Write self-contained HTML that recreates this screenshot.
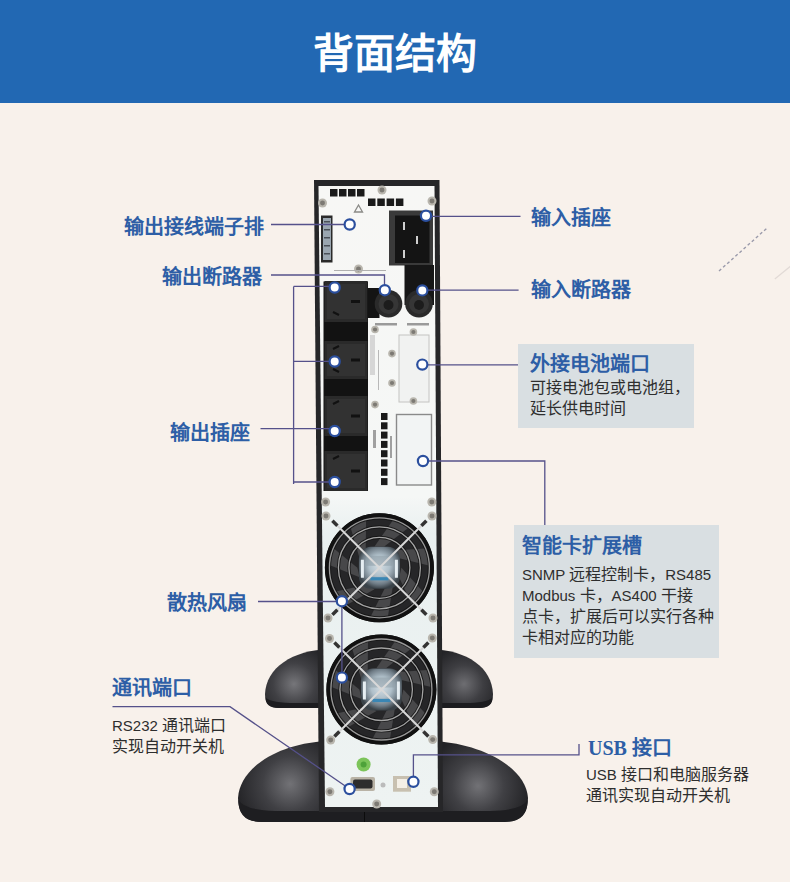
<!DOCTYPE html>
<html lang="zh-CN"><head><meta charset="utf-8">
<style>
html,body{margin:0;padding:0;}
body{width:790px;height:882px;position:relative;overflow:hidden;background:#f8f1eb;font-family:"Liberation Sans",sans-serif;}
.hdr{position:absolute;left:0;top:0;width:790px;height:103px;background:#2268b3;}
.title{position:absolute;left:0;top:26px;width:790px;text-align:center;color:#fff;font-size:41px;font-weight:bold;line-height:56px;font-family:"Liberation Serif",serif;letter-spacing:0px;}
.lb{position:absolute;color:#2d5ea6;font-size:20px;font-weight:bold;line-height:24px;white-space:nowrap;font-family:"Liberation Serif",serif;}
.tx{position:absolute;color:#2e2e2e;font-size:16px;line-height:21px;white-space:nowrap;}
.l{font-size:15px;}
.box{position:absolute;background:#d9dfe2;}
svg{position:absolute;left:0;top:0;}
</style></head><body>
<div class="hdr"></div>
<div class="title">背面结构</div>

<svg width="790" height="882" viewBox="0 0 790 882">
<defs>
<radialGradient id="domeL" cx="0.55" cy="0.55" r="0.6"><stop offset="0" stop-color="#8a8a8e"/><stop offset="0.45" stop-color="#4a4a4e"/><stop offset="1" stop-color="#1e1e22"/></radialGradient>
<linearGradient id="panel" x1="0" y1="0" x2="0" y2="1"><stop offset="0" stop-color="#f7f7f5"/><stop offset="0.5" stop-color="#f5f7f6"/><stop offset="0.56" stop-color="#e9f0f0"/><stop offset="1" stop-color="#eef3f2"/></linearGradient>
<radialGradient id="hub" cx="0.5" cy="0.45" r="0.55"><stop offset="0" stop-color="#d4dee4"/><stop offset="0.45" stop-color="#b0c0ca"/><stop offset="0.8" stop-color="#6f7c86"/><stop offset="1" stop-color="#3a4248"/></radialGradient>
<radialGradient id="fanbg" cx="0.5" cy="0.5" r="0.5"><stop offset="0.35" stop-color="#2a2a2c"/><stop offset="0.8" stop-color="#141416"/><stop offset="1" stop-color="#303032"/></radialGradient>
</defs>
<radialGradient id="dU1" gradientUnits="userSpaceOnUse" cx="294" cy="684" r="42"><stop offset="0" stop-color="#76767a"/><stop offset="0.5" stop-color="#404044"/><stop offset="1" stop-color="#232326"/></radialGradient>
<radialGradient id="dU2" gradientUnits="userSpaceOnUse" cx="464" cy="684" r="38"><stop offset="0" stop-color="#6e6e72"/><stop offset="0.5" stop-color="#3e3e42"/><stop offset="1" stop-color="#232326"/></radialGradient>
<radialGradient id="dL1" gradientUnits="userSpaceOnUse" cx="290" cy="784" r="55"><stop offset="0" stop-color="#727276"/><stop offset="0.5" stop-color="#404044"/><stop offset="1" stop-color="#232326"/></radialGradient>
<radialGradient id="dL2" gradientUnits="userSpaceOnUse" cx="478" cy="786" r="52"><stop offset="0" stop-color="#727276"/><stop offset="0.5" stop-color="#404044"/><stop offset="1" stop-color="#232326"/></radialGradient>
<path d="M381,649 L330,649 C292,650 266,668 265,694 Q265,708 279,708 L381,708 Z" fill="url(#dU1)"/>
<path d="M379,649 L430,649 C468,650 492,668 493,694 Q493,708 479,708 L379,708 Z" fill="url(#dU2)"/>
<path d="M265.5,697 Q268,702 290,703 L470,703 Q490,702 492.5,697 Q493,708 479,708 L279,708 Q265,708 265.5,697 Z" fill="#1c1c1f"/>
<path d="M383,741 L330,741 C282,742 240,766 238,798 Q238,822 262,822 L383,822 Z" fill="url(#dL1)"/>
<path d="M381,741 L430,741 C478,742 526,766 528,798 Q528,822 504,822 L381,822 Z" fill="url(#dL2)"/>
<path d="M238.5,800 Q244,810 275,811 L490,811 Q523,810 527.5,800 Q528,822 504,822 L262,822 Q238,822 238.5,800 Z" fill="#1e1e21"/>
<rect x="364" y="812" width="1" height="10" fill="#0c0c0c"/>
<polygon points="314,180 439.5,180 443,812 319,812" fill="#262628"/>
<polygon points="318.5,186 434.5,186 438,807 325,807" fill="url(#panel)"/>
<rect x="330" y="189" width="7.5" height="7.5" fill="#1a1a1a"/>
<rect x="368.0" y="198.5" width="7.5" height="7.5" fill="#1a1a1a"/>
<rect x="339" y="189" width="7.5" height="7.5" fill="#1a1a1a"/>
<rect x="377.3" y="198.5" width="7.5" height="7.5" fill="#1a1a1a"/>
<rect x="348" y="189" width="7.5" height="7.5" fill="#1a1a1a"/>
<rect x="386.6" y="198.5" width="7.5" height="7.5" fill="#1a1a1a"/>
<rect x="357" y="189" width="7.5" height="7.5" fill="#1a1a1a"/>
<rect x="395.9" y="198.5" width="7.5" height="7.5" fill="#1a1a1a"/>
<circle cx="382" cy="190" r="4.5" fill="#b9b6ae"/><circle cx="382" cy="190" r="2.475" fill="#7d7a74"/>
<circle cx="322.5" cy="203" r="4.5" fill="#b9b6ae"/><circle cx="322.5" cy="203" r="2.475" fill="#7d7a74"/>
<circle cx="432" cy="201" r="4.5" fill="#b9b6ae"/><circle cx="432" cy="201" r="2.475" fill="#7d7a74"/>
<circle cx="358.5" cy="269" r="4.5" fill="#b9b6ae"/><circle cx="358.5" cy="269" r="2.475" fill="#7d7a74"/>
<circle cx="325.6" cy="502" r="4.5" fill="#b9b6ae"/><circle cx="325.6" cy="502" r="2.475" fill="#7d7a74"/>
<circle cx="431.8" cy="502" r="4.5" fill="#b9b6ae"/><circle cx="431.8" cy="502" r="2.475" fill="#7d7a74"/>
<circle cx="326" cy="516" r="4.5" fill="#b9b6ae"/><circle cx="326" cy="516" r="2.475" fill="#7d7a74"/>
<circle cx="432" cy="516" r="4.5" fill="#b9b6ae"/><circle cx="432" cy="516" r="2.475" fill="#7d7a74"/>
<circle cx="329.5" cy="638.5" r="4.5" fill="#b9b6ae"/><circle cx="329.5" cy="638.5" r="2.475" fill="#7d7a74"/>
<circle cx="432.3" cy="638" r="4.5" fill="#b9b6ae"/><circle cx="432.3" cy="638" r="2.475" fill="#7d7a74"/>
<circle cx="330.7" cy="740" r="4.5" fill="#b9b6ae"/><circle cx="330.7" cy="740" r="2.475" fill="#7d7a74"/>
<circle cx="432.7" cy="739.6" r="4.5" fill="#b9b6ae"/><circle cx="432.7" cy="739.6" r="2.475" fill="#7d7a74"/>
<circle cx="328" cy="618" r="4.5" fill="#b9b6ae"/><circle cx="328" cy="618" r="2.475" fill="#7d7a74"/>
<circle cx="433" cy="618" r="4.5" fill="#b9b6ae"/><circle cx="433" cy="618" r="2.475" fill="#7d7a74"/>
<circle cx="329.9" cy="791.7" r="4.5" fill="#b9b6ae"/><circle cx="329.9" cy="791.7" r="2.475" fill="#7d7a74"/>
<circle cx="434.3" cy="791.7" r="4.5" fill="#b9b6ae"/><circle cx="434.3" cy="791.7" r="2.475" fill="#7d7a74"/>
<circle cx="376.7" cy="804" r="4.5" fill="#b9b6ae"/><circle cx="376.7" cy="804" r="2.475" fill="#7d7a74"/>
<path d="M354.5,212 L358.5,205 L362.5,212 Z" fill="none" stroke="#8a8a86" stroke-width="1.3"/>
<rect x="321" y="215.5" width="11.5" height="47" fill="#2a2a2a"/>
<rect x="323" y="218" width="8" height="42" fill="#9aa6b0"/>
<rect x="324" y="221" width="6" height="1.5" fill="#4a5058"/>
<rect x="324" y="229" width="6" height="1.5" fill="#4a5058"/>
<rect x="324" y="237" width="6" height="1.5" fill="#4a5058"/>
<rect x="324" y="245" width="6" height="1.5" fill="#4a5058"/>
<rect x="324" y="253" width="6" height="1.5" fill="#4a5058"/>
<rect x="389" y="210.5" width="44" height="55" fill="#3a3a3a"/>
<rect x="395" y="215.5" width="34.5" height="47.5" fill="#141414"/>
<rect x="403" y="222" width="2" height="8" fill="#cfcfcf"/><rect x="416" y="236" width="2" height="8" fill="#cfcfcf"/><rect x="403" y="250" width="2" height="8" fill="#cfcfcf"/>
<rect x="404.5" y="265" width="29.5" height="40" fill="#161616"/>
<rect x="334" y="270" width="52" height="1" fill="#b0b0b0"/>
<rect x="323.5" y="281.5" width="44.5" height="209.5" fill="#121212"/>
<rect x="324.5" y="281" width="43" height="41" fill="#2a2a2a"/>
<rect x="327" y="284" width="38" height="35" fill="#323232"/>
<path d="M333,289 l6,-3" stroke="#111" stroke-width="2.2"/>
<path d="M333,312 l6,3" stroke="#111" stroke-width="2.2"/>
<rect x="351" y="300.0" width="9" height="3" fill="#111"/>
<rect x="324.5" y="341" width="43" height="38" fill="#2a2a2a"/>
<rect x="327" y="344" width="38" height="32" fill="#323232"/>
<path d="M333,349 l6,-3" stroke="#111" stroke-width="2.2"/>
<path d="M333,369 l6,3" stroke="#111" stroke-width="2.2"/>
<rect x="351" y="358.5" width="9" height="3" fill="#111"/>
<rect x="324.5" y="396" width="43" height="40" fill="#2a2a2a"/>
<rect x="327" y="399" width="38" height="34" fill="#323232"/>
<path d="M333,404 l6,-3" stroke="#111" stroke-width="2.2"/>
<path d="M333,426 l6,3" stroke="#111" stroke-width="2.2"/>
<rect x="351" y="414.5" width="9" height="3" fill="#111"/>
<rect x="324.5" y="451" width="43" height="40" fill="#2a2a2a"/>
<rect x="327" y="454" width="38" height="34" fill="#323232"/>
<path d="M333,459 l6,-3" stroke="#111" stroke-width="2.2"/>
<path d="M333,481 l6,3" stroke="#111" stroke-width="2.2"/>
<rect x="351" y="469.5" width="9" height="3" fill="#111"/>
<rect x="367.5" y="288" width="12" height="30" fill="#141414"/>
<circle cx="388.5" cy="303.7" r="13.8" fill="#2a2a2a"/>
<circle cx="388.5" cy="304" r="10" fill="#363636"/>
<circle cx="388.5" cy="305" r="5" fill="#1c1c1c"/>
<circle cx="419" cy="303.7" r="13.8" fill="#2a2a2a"/>
<circle cx="419" cy="304" r="10" fill="#363636"/>
<circle cx="419" cy="305" r="5" fill="#1c1c1c"/>
<rect x="375" y="323" width="22" height="2.5" fill="#9a9a9a"/><rect x="407" y="323" width="22" height="2.5" fill="#9a9a9a"/>
<rect x="399" y="335" width="30" height="67" fill="#f1f2f1" stroke="#c4c4c2" stroke-width="1"/>
<rect x="378" y="350" width="1" height="40" fill="#b8b8b8"/><rect x="370" y="335" width="5" height="40" fill="#d6d6d6"/>
<circle cx="392" cy="353.6" r="3.8" fill="#b9b6ae"/><circle cx="392" cy="353.6" r="2.09" fill="#7d7a74"/>
<circle cx="392" cy="383" r="3.8" fill="#b9b6ae"/><circle cx="392" cy="383" r="2.09" fill="#7d7a74"/>
<circle cx="413.4" cy="332" r="3.8" fill="#b9b6ae"/><circle cx="413.4" cy="332" r="2.09" fill="#7d7a74"/>
<circle cx="413.4" cy="401" r="3.8" fill="#b9b6ae"/><circle cx="413.4" cy="401" r="2.09" fill="#7d7a74"/>
<circle cx="375" cy="404.6" r="3.8" fill="#b9b6ae"/><circle cx="375" cy="404.6" r="2.09" fill="#7d7a74"/>
<circle cx="375" cy="329.5" r="3.8" fill="#b9b6ae"/><circle cx="375" cy="329.5" r="2.09" fill="#7d7a74"/>
<rect x="396.5" y="414.5" width="35" height="70.5" fill="#f2f4f4" stroke="#8a8a8a" stroke-width="1.4"/>
<rect x="381" y="413.0" width="6.5" height="7" fill="#1a1a1a"/>
<rect x="381" y="422.3" width="6.5" height="7" fill="#1a1a1a"/>
<rect x="381" y="431.6" width="6.5" height="7" fill="#1a1a1a"/>
<rect x="381" y="440.9" width="6.5" height="7" fill="#1a1a1a"/>
<rect x="381" y="450.2" width="6.5" height="7" fill="#1a1a1a"/>
<rect x="381" y="459.5" width="6.5" height="7" fill="#1a1a1a"/>
<rect x="381" y="468.8" width="6.5" height="7" fill="#1a1a1a"/>
<rect x="381" y="478.1" width="6.5" height="7" fill="#1a1a1a"/>
<rect x="373" y="430" width="3" height="18" fill="#a0a0a0"/><rect x="390" y="436" width="2" height="22" fill="#a0a0a0"/>
<circle cx="379.4" cy="567.8" r="54.5" fill="#141416"/><circle cx="379.4" cy="567.8" r="49.5" fill="#262628"/><path d="M401.4,567.8 L422.8,591.5 A49.5,49.5 0 0 1 412.1,605.0 L399.2,577.4 Z" fill="#48484a"/><path d="M393.1,585.0 L387.9,616.6 A49.5,49.5 0 0 1 370.7,616.5 L384.3,589.3 Z" fill="#48484a"/><path d="M374.5,589.2 L346.6,604.9 A49.5,49.5 0 0 1 335.9,591.4 L365.7,585.0 Z" fill="#48484a"/><path d="M359.6,577.3 L330.0,565.3 A49.5,49.5 0 0 1 333.8,548.5 L357.4,567.8 Z" fill="#48484a"/><path d="M359.6,558.3 L350.6,527.6 A49.5,49.5 0 0 1 366.1,520.1 L365.7,550.6 Z" fill="#48484a"/><path d="M374.5,546.4 L392.9,520.2 A49.5,49.5 0 0 1 408.4,527.7 L384.3,546.4 Z" fill="#48484a"/><path d="M393.1,550.6 L425.0,548.6 A49.5,49.5 0 0 1 428.8,565.4 L399.2,558.3 Z" fill="#48484a"/><circle cx="379.4" cy="567.8" r="53.0" fill="none" stroke="#111" stroke-width="3"/><circle cx="379.4" cy="567.8" r="50.0" fill="none" stroke="#111" stroke-width="3.2" opacity="0.8"/><circle cx="379.4" cy="567.8" r="50.0" fill="none" stroke="#9a9a9a" stroke-width="1.3"/><circle cx="379.4" cy="567.8" r="41.0" fill="none" stroke="#111" stroke-width="3.2" opacity="0.8"/><circle cx="379.4" cy="567.8" r="41.0" fill="none" stroke="#a4a4a4" stroke-width="1.3"/><circle cx="379.4" cy="567.8" r="30.5" fill="none" stroke="#111" stroke-width="3.2" opacity="0.8"/><circle cx="379.4" cy="567.8" r="30.5" fill="none" stroke="#a4a4a4" stroke-width="1.3"/><rect x="358.9" y="546.8" width="41" height="42" rx="12" fill="url(#hub)"/><rect x="366.4" y="555.8" width="26" height="10" fill="#8e9ca6" opacity="0.55"/><path d="M362.4,559.8 v18 M396.4,559.8 v18" stroke="#e6eef2" stroke-width="3"/><path d="M370.4,578.8 h18" stroke="#3a86b4" stroke-width="3.2"/><path d="M334.4,522.8 L424.4,612.8 M424.4,522.8 L334.4,612.8" stroke="#d8d8d8" stroke-width="2"/><path d="M337.4,525.8 L332.4,520.8" stroke="#333" stroke-width="3.5"/><path d="M421.4,525.8 L426.4,520.8" stroke="#333" stroke-width="3.5"/><path d="M337.4,609.8 L332.4,614.8" stroke="#333" stroke-width="3.5"/><path d="M421.4,609.8 L426.4,614.8" stroke="#333" stroke-width="3.5"/>
<circle cx="381.4" cy="689.5" r="55" fill="#141416"/><circle cx="381.4" cy="689.5" r="50" fill="#262628"/><path d="M403.4,689.5 L425.3,713.5 A50,50 0 0 1 414.4,727.1 L401.2,699.1 Z" fill="#48484a"/><path d="M395.1,706.7 L390.0,738.8 A50,50 0 0 1 372.6,738.7 L386.3,711.0 Z" fill="#48484a"/><path d="M376.5,710.9 L348.3,726.9 A50,50 0 0 1 337.4,713.3 L367.7,706.7 Z" fill="#48484a"/><path d="M361.6,699.0 L331.5,686.9 A50,50 0 0 1 335.4,670.0 L359.4,689.5 Z" fill="#48484a"/><path d="M361.6,680.0 L352.3,648.9 A50,50 0 0 1 368.0,641.3 L367.7,672.3 Z" fill="#48484a"/><path d="M376.5,668.1 L395.0,641.4 A50,50 0 0 1 410.7,649.0 L386.3,668.1 Z" fill="#48484a"/><path d="M395.1,672.3 L427.5,670.1 A50,50 0 0 1 431.3,687.1 L401.2,680.0 Z" fill="#48484a"/><circle cx="381.4" cy="689.5" r="53.5" fill="none" stroke="#111" stroke-width="3"/><circle cx="381.4" cy="689.5" r="50.5" fill="none" stroke="#111" stroke-width="3.2" opacity="0.8"/><circle cx="381.4" cy="689.5" r="50.5" fill="none" stroke="#9a9a9a" stroke-width="1.3"/><circle cx="381.4" cy="689.5" r="41.5" fill="none" stroke="#111" stroke-width="3.2" opacity="0.8"/><circle cx="381.4" cy="689.5" r="41.5" fill="none" stroke="#a4a4a4" stroke-width="1.3"/><circle cx="381.4" cy="689.5" r="31" fill="none" stroke="#111" stroke-width="3.2" opacity="0.8"/><circle cx="381.4" cy="689.5" r="31" fill="none" stroke="#a4a4a4" stroke-width="1.3"/><rect x="360.9" y="668.5" width="41" height="42" rx="12" fill="url(#hub)"/><rect x="368.4" y="677.5" width="26" height="10" fill="#8e9ca6" opacity="0.55"/><path d="M364.4,681.5 v18 M398.4,681.5 v18" stroke="#e6eef2" stroke-width="3"/><path d="M372.4,700.5 h18" stroke="#3a86b4" stroke-width="3.2"/><path d="M336.4,644.5 L426.4,734.5 M426.4,644.5 L336.4,734.5" stroke="#d8d8d8" stroke-width="2"/><path d="M339.4,647.5 L334.4,642.5" stroke="#333" stroke-width="3.5"/><path d="M423.4,647.5 L428.4,642.5" stroke="#333" stroke-width="3.5"/><path d="M339.4,731.5 L334.4,736.5" stroke="#333" stroke-width="3.5"/><path d="M423.4,731.5 L428.4,736.5" stroke="#333" stroke-width="3.5"/>
<circle cx="363.6" cy="764.5" r="7" fill="#7cc45a"/><circle cx="363.6" cy="764.5" r="3" fill="#4ea23a"/>
<rect x="350.4" y="777" width="24.6" height="14" rx="2" fill="#b9b3a6"/><rect x="353" y="779.5" width="19.5" height="9" rx="2" fill="#2d2d2d"/>
<rect x="393" y="776" width="18" height="15.7" fill="#c8c0b0"/><rect x="397" y="779" width="10" height="9" fill="#f4efe6"/>
<circle cx="383" cy="785" r="2.5" fill="#bbb"/>
<path d="M271,224.5 H349" fill="none" stroke="#55518a" stroke-width="1.3"/>
<path d="M271,275 H384.5 V290" fill="none" stroke="#55518a" stroke-width="1.3"/>
<path d="M293.6,286.4 V484 M293.6,286.4 H334.7 M293.6,361.3 H334.7 M260.5,428.6 H334.7 M293.6,482 H334.7" fill="none" stroke="#55518a" stroke-width="1.3"/>
<path d="M426,216.3 H520.5" fill="none" stroke="#55518a" stroke-width="1.3"/>
<path d="M422.3,290.2 H518.6" fill="none" stroke="#55518a" stroke-width="1.3"/>
<path d="M422.3,364.8 H518" fill="none" stroke="#55518a" stroke-width="1.3"/>
<path d="M423,461 H544.8 V525" fill="none" stroke="#55518a" stroke-width="1.3"/>
<path d="M258,601.5 H342 M341.9,601.5 V677.6" fill="none" stroke="#55518a" stroke-width="1.3"/>
<path d="M112.5,706.7 H230 L349.6,789" fill="none" stroke="#55518a" stroke-width="1.3"/>
<path d="M413.4,781.8 V754.8 H579 V744" fill="none" stroke="#55518a" stroke-width="1.3"/>
<path d="M719,271 L767.5,227.6" stroke="#9a9aaa" stroke-width="1.4" stroke-dasharray="3,2.5"/>
<path d="M774.8,279 L792,265" stroke="#e2dad6" stroke-width="1.2"/>
<circle cx="349.7" cy="224.5" r="5.1" fill="#fff" stroke="#2b4f9e" stroke-width="2.2"/>
<circle cx="426" cy="215.8" r="5.1" fill="#fff" stroke="#2b4f9e" stroke-width="2.2"/>
<circle cx="384.8" cy="290.2" r="5.1" fill="#fff" stroke="#2b4f9e" stroke-width="2.2"/>
<circle cx="422.3" cy="290.4" r="5.1" fill="#fff" stroke="#2b4f9e" stroke-width="2.2"/>
<circle cx="334.7" cy="287.5" r="5.1" fill="#fff" stroke="#2b4f9e" stroke-width="2.2"/>
<circle cx="334.7" cy="361.5" r="5.1" fill="#fff" stroke="#2b4f9e" stroke-width="2.2"/>
<circle cx="334.7" cy="431" r="5.1" fill="#fff" stroke="#2b4f9e" stroke-width="2.2"/>
<circle cx="334.7" cy="482" r="5.1" fill="#fff" stroke="#2b4f9e" stroke-width="2.2"/>
<circle cx="422.3" cy="364.6" r="5.1" fill="#fff" stroke="#2b4f9e" stroke-width="2.2"/>
<circle cx="423" cy="461" r="5.1" fill="#fff" stroke="#2b4f9e" stroke-width="2.2"/>
<circle cx="341.9" cy="601.2" r="5.1" fill="#fff" stroke="#2b4f9e" stroke-width="2.2"/>
<circle cx="341.9" cy="677.6" r="5.1" fill="#fff" stroke="#2b4f9e" stroke-width="2.2"/>
<circle cx="349.6" cy="789" r="5.1" fill="#fff" stroke="#2b4f9e" stroke-width="2.2"/>
<circle cx="413.4" cy="781.8" r="5.1" fill="#fff" stroke="#2b4f9e" stroke-width="2.2"/>
</svg>

<div class="box" style="left:518px;top:344px;width:176px;height:84px"></div>
<div class="box" style="left:514px;top:525px;width:205px;height:133px"></div>

<div class="lb" style="left:124px;top:215px">输出接线端子排</div>
<div class="lb" style="left:162px;top:265px">输出断路器</div>
<div class="lb" style="left:170px;top:421px">输出插座</div>
<div class="lb" style="left:167px;top:591px">散热风扇</div>
<div class="lb" style="left:112px;top:676px">通讯端口</div>
<div class="tx" style="left:112px;top:715px"><span class="l">RS232 </span>通讯端口<br>实现自动开关机</div>

<div class="lb" style="left:531px;top:206px">输入插座</div>
<div class="lb" style="left:531px;top:278px">输入断路器</div>
<div class="lb" style="left:530px;top:352px">外接电池端口</div>
<div class="tx" style="left:530px;top:377px">可接电池包或电池组，<br>延长供电时间</div>
<div class="lb" style="left:522px;top:534px">智能卡扩展槽</div>
<div class="tx" style="left:522px;top:564px"><span class="l">SNMP </span>远程控制卡，<span class="l">RS485</span><br><span class="l">Modbus </span>卡，<span class="l">AS400 </span>干接<br>点卡，扩展后可以实行各种<br>卡相对应的功能</div>
<div class="lb" style="left:588px;top:736px">USB 接口</div>
<div class="tx" style="left:586px;top:764px"><span class="l">USB </span>接口和电脑服务器<br>通讯实现自动开关机</div>
</body></html>
